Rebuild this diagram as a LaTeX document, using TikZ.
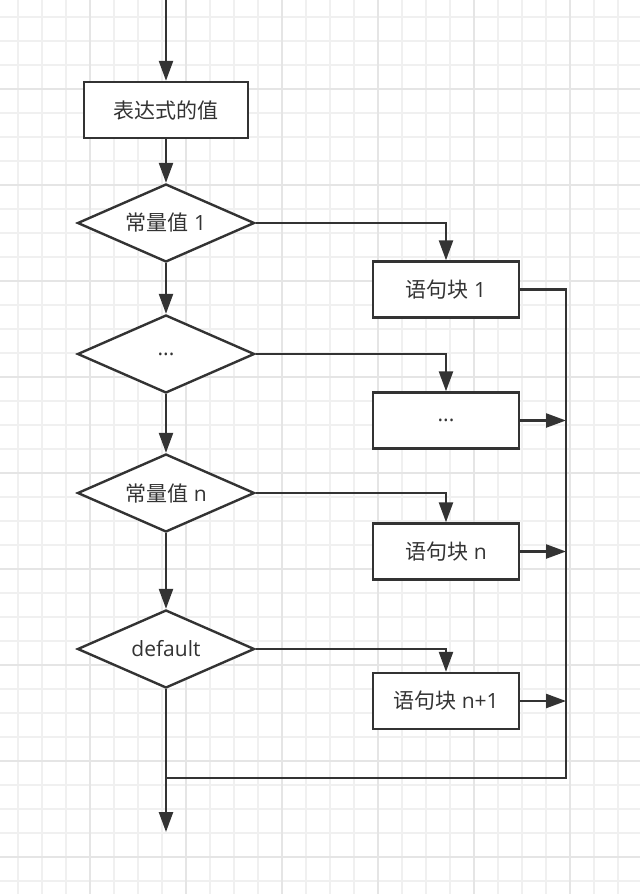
\documentclass[tikz,border=0pt]{standalone}
\usepackage{fontspec}
\setmainfont{Open Sans}
\newfontfamily\cjk{Noto Sans CJK SC}
\usetikzlibrary{arrows.meta,shapes.geometric}
\definecolor{ink}{HTML}{333333}
\definecolor{gridminor}{HTML}{F0F0F0}
\definecolor{gridmajor}{HTML}{E5E5E5}
\tikzset{
  every node/.style={font=\fontsize{15.75}{18}\selectfont, text=ink},
  procbox/.style={draw=ink, line width=1.8pt, fill=white, inner sep=0pt, minimum width=109.5pt, minimum height=42pt},
  decision/.style={diamond, draw=ink, line width=1.8pt, fill=white, inner sep=0pt, aspect=2.27, minimum width=132.75pt, minimum height=58.5pt},
  flow/.style={draw=ink, line width=1.8pt, -{Triangle[length=15pt,width=10.5pt]}},
  plain/.style={draw=ink, line width=1.8pt},
  gminor/.style={draw=gridminor, line width=1.1pt},
  gmajor/.style={draw=gridmajor, line width=1.3pt}
}
\begin{document}
\begin{tikzpicture}[x=0.75pt,y=-0.75pt]
\useasboundingbox (0,0) rectangle (640,894);
\fill[white] (0,0) rectangle (640,894);
% grid
\foreach \gx in {18,42,...,642} \draw[gminor] (\gx,0) -- (\gx,894);
\foreach \gy in {17,41,...,893} \draw[gminor] (0,\gy) -- (640,\gy);
\foreach \gx in {90,186,...,570} \draw[gmajor] (\gx,0) -- (\gx,894);
\foreach \gy in {89,185,...,857} \draw[gmajor] (0,\gy) -- (640,\gy);

% nodes
\coordinate (top) at (166,-5);
\node[procbox, minimum width=123pt] (expr) at (166,110) {\cjk 表达式的值};
\node[decision] (d1) at (166,223) {{\cjk 常量值} 1};
\node[decision] (d2) at (166,354) {...};
\node[decision] (d3) at (166,493) {{\cjk 常量值} n};
\node[decision] (d4) at (166,649) {default};

\node[procbox] (b1) at (446,289.5) {{\cjk 语句块} 1};
\node[procbox] (b2) at (446,420.5) {...};
\node[procbox] (b3) at (446,551.5) {{\cjk 语句块} n};
\node[procbox] (b4) at (446,701) {{\cjk 语句块} n+1};

\coordinate (corner) at (566,778);
\coordinate (join) at (166,778);
\coordinate (end) at (166,832);

% connectors
\draw[flow] (top) -- (expr);
\draw[flow] (expr) -- (d1);
\draw[flow] (d1) -- (d2);
\draw[flow] (d2) -- (d3);
\draw[flow] (d3) -- (d4);
\draw[flow] (d4) -- (end);

\draw[flow] (d1.east) -| (b1.north);
\draw[flow] (d2.east) -| (b2.north);
\draw[flow] (d3.east) -| (b3.north);
\draw[flow] (d4.east) -| (b4.north);

\draw[plain] (b1.east) -| (corner) -- (join);
\draw[flow] (b2.east) -- (b2.east -| corner);
\draw[flow] (b3.east) -- (b3.east -| corner);
\draw[flow] (b4.east) -- (b4.east -| corner);
\end{tikzpicture}
\end{document}
